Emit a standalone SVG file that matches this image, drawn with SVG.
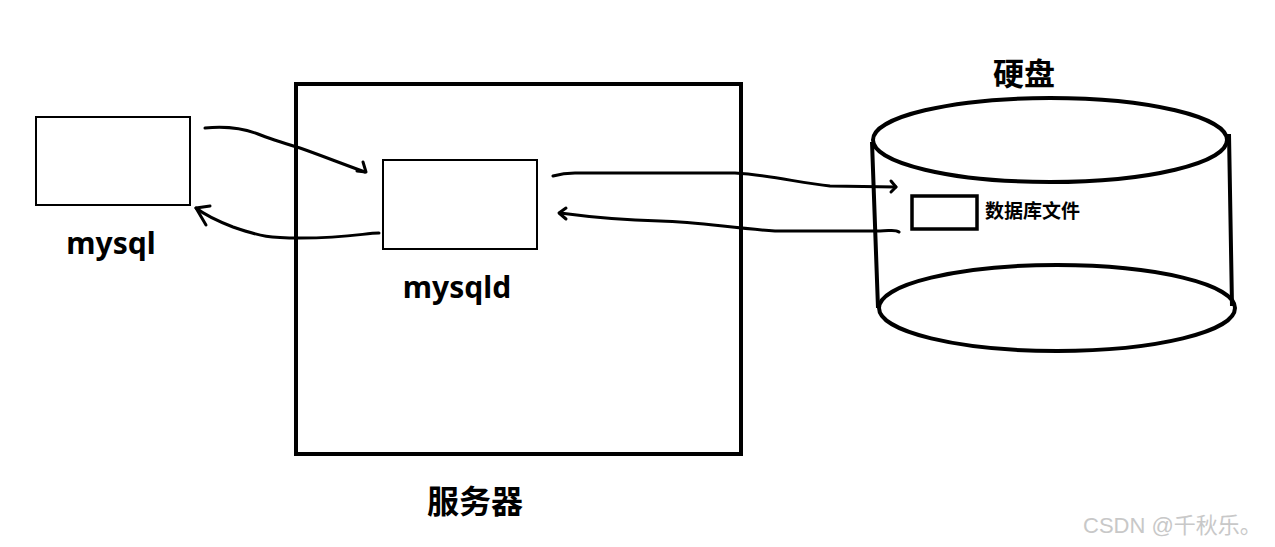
<svg xmlns="http://www.w3.org/2000/svg" width="1275" height="547" viewBox="0 0 1275 547">
<style>
.box{fill:none;stroke:#000;stroke-width:2}
.thick{fill:none;stroke:#000;stroke-width:4}
.ln{fill:none;stroke:#000;stroke-width:3;stroke-linecap:round;stroke-linejoin:round}
.lbl{font-family:"Noto Sans","Noto Sans CJK SC",sans-serif;font-weight:bold;fill:#000}
.wm{font-family:"Liberation Sans","Noto Sans CJK SC",sans-serif;fill:#c8c8c8;font-size:22px}
</style>
<rect width="1275" height="547" fill="#fff"/>
<g id="server">
<rect class="thick" x="296" y="84" width="445" height="370"/>
<text class="lbl" x="475" y="513" font-size="32" text-anchor="middle">服务器</text>
</g>
<g id="mysql">
<rect class="box" x="36" y="117" width="154" height="88"/>
<text class="lbl" x="111" y="254" font-size="30" text-anchor="middle">mysql</text>
</g>
<g id="mysqld">
<rect class="box" x="383" y="160" width="154" height="89"/>
<text class="lbl" x="457" y="298" font-size="30" text-anchor="middle">mysqld</text>
</g>
<g id="disk">
<ellipse class="thick" cx="1050" cy="140" rx="177" ry="42"/>
<ellipse class="thick" cx="1057" cy="308" rx="178" ry="43"/>
<path class="thick" d="M872 142 L878 308 M1229 134 L1232 306"/>
<text class="lbl" x="1024" y="85" font-size="31" text-anchor="middle">硬盘</text>
</g>
<g id="dbfile">
<rect x="912" y="196" width="65" height="33" fill="none" stroke="#000" stroke-width="3.5"/>
<text class="lbl" x="985" y="218" font-size="19">数据库文件</text>
</g>
<g id="connectors">
<path class="ln" d="M205 128 C225 126 245 129 258 134 C270 139 280 142 300 148 C320 155 340 163 365 172"/>
<path class="ln" d="M363 162 L366 172 L357 171"/>
<path class="ln" d="M379 233 C365 233 350 238 300 238 C270 238 262 237 233 227 C215 220 205 215 196 208"/>
<path class="ln" d="M210 206 L196 208 L206 225"/>
<path class="ln" d="M553 176 C560 174 565 173 575 173 L735 173 C770 175 800 183 830 186 L896 187"/>
<path class="ln" d="M891 181 L896 187 L891 192"/>
<path class="ln" d="M899 232 C895 229 890 231 880 231 L775 231 C730 228 700 222 660 221 C620 220 590 217 560 213"/>
<path class="ln" d="M566 208 L559 213 L566 219"/>
</g>
<text class="wm" x="1083" y="533">CSDN @千秋乐。</text>
</svg>
